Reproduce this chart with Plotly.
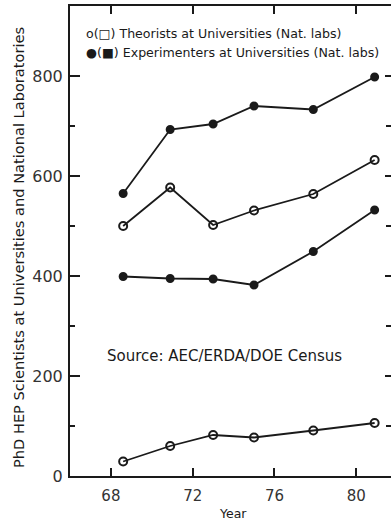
import plotly.graph_objects as go

# Data
years = [68.6, 70.9, 73.0, 75.0, 77.9, 80.9]
exp_univ = [565, 693, 704, 740, 733, 798]
theo_univ = [500, 577, 502, 531, 564, 632]
exp_lab = [399, 395, 394, 382, 449, 532]
theo_lab = [29, 60, 82, 77, 91, 106]

x_ticks = [68, 72, 76, 80]
y_ticks = [0, 200, 400, 600, 800]

legend_lines = ["o(□) Theorists at Universities (Nat. labs)",
                "●(■) Experimenters at Universities (Nat. labs)"]
source_text = "Source: AEC/ERDA/DOE Census"
y_title = "PhD HEP Scientists at Universities and National Laboratories"
x_title = "Year"

INK = "#1a1a1a"
FONT = "DejaVu Sans"

fig = go.Figure()

def add_series(vals, filled):
    fig.add_trace(go.Scatter(
        x=years, y=vals, mode="lines+markers",
        line=dict(color=INK, width=1.8),
        marker=dict(symbol="circle" if filled else "circle-open",
                    size=7 if filled else 8, color=INK,
                    line=dict(color=INK, width=2)),
        showlegend=False, hoverinfo="skip"))

add_series(exp_univ, True)
add_series(theo_univ, False)
add_series(exp_lab, True)
add_series(theo_lab, False)

# invisible trace on right axis for right-side ticks
fig.add_trace(go.Scatter(x=[years[0]], y=[0], yaxis="y2", mode="markers",
                         marker=dict(opacity=0), showlegend=False, hoverinfo="skip"))

fig.update_layout(
    width=391, height=522,
    margin=dict(l=70, r=0, t=6, b=46),
    paper_bgcolor="white", plot_bgcolor="white",
    font=dict(family=FONT, color=INK),
    xaxis=dict(range=[66, 81.7], tickvals=x_ticks, ticktext=[str(v) for v in x_ticks],
               ticks="inside", ticklen=8, tickwidth=1.5, tickcolor=INK,
               showline=True, linecolor=INK, linewidth=2, mirror="ticks",
               showgrid=False, zeroline=False,
               tickfont=dict(size=15, family=FONT, color="#333"),
               ticklabelstandoff=5),
    yaxis=dict(range=[0, 940], tickvals=y_ticks, ticktext=[str(v) for v in y_ticks],
               ticks="inside", ticklen=10, tickwidth=1.5, tickcolor=INK,
               minor=dict(tickvals=[100, 300, 500, 700], ticks="inside", ticklen=5,
                          tickwidth=1.5, tickcolor=INK),
               showline=True, linecolor=INK, linewidth=2,
               showgrid=False, zeroline=False,
               tickfont=dict(size=16, family=FONT, color="#333"),
               ticklabelstandoff=2),
    yaxis2=dict(range=[0, 940], overlaying="y", side="right", matches="y",
                tickvals=y_ticks, ticks="inside", ticklen=6, tickwidth=1.5,
                tickcolor=INK, showticklabels=False, showline=False,
                showgrid=False, zeroline=False,
                minor=dict(tickvals=[100, 300, 500, 700], ticks="inside", ticklen=5,
                           tickwidth=1.5, tickcolor=INK)),
)

def px_to_paper_x(px):
    return (px - 70) / 321.0

def px_to_paper_y(py):
    return (476 - py) / 470.0

anns = [
    dict(text=legend_lines[0], x=px_to_paper_x(84), y=px_to_paper_y(33),
         xanchor="left", yanchor="middle", font=dict(size=12.6)),
    dict(text=legend_lines[1], x=px_to_paper_x(84), y=px_to_paper_y(53),
         xanchor="left", yanchor="middle", font=dict(size=12.6)),
    dict(text=source_text, x=px_to_paper_x(105), y=px_to_paper_y(356),
         xanchor="left", yanchor="middle", font=dict(size=15)),
    dict(text=x_title, x=px_to_paper_x(233), y=px_to_paper_y(513),
         xanchor="center", yanchor="middle", font=dict(size=12.5)),
    dict(text=y_title, x=px_to_paper_x(19), y=px_to_paper_y(248),
         xanchor="center", yanchor="middle", textangle=-90, font=dict(size=14.6)),
]
for a in anns:
    a.update(xref="paper", yref="paper", showarrow=False)
    a["font"].update(family=FONT, color=INK)
fig.update_layout(annotations=anns)

fig.write_html("out.html", config={"displayModeBar": False},
               post_script="document.body.style.margin='0';document.body.style.overflow='hidden';")
